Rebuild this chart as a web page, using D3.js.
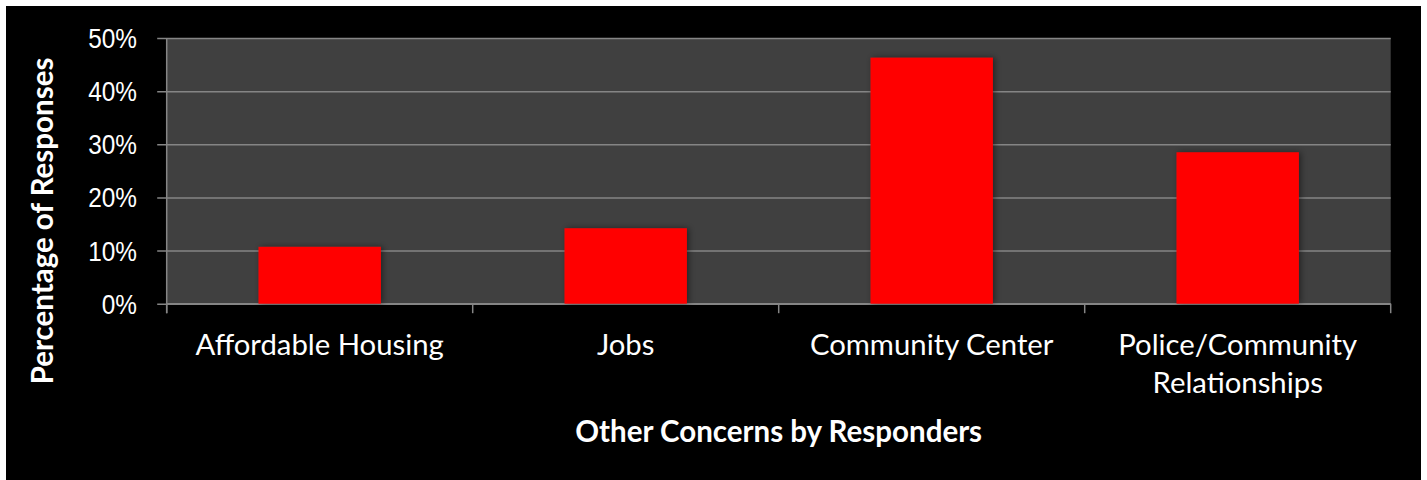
<!DOCTYPE html>
<html>
<head>
<meta charset="utf-8">
<script src="https://cdn.jsdelivr.net/npm/d3@7"></script>
<style>
  html, body { margin: 0; padding: 0; background: #ffffff; }
  svg { display: block; }
</style>
</head>
<body>
<svg id="chart" width="1427" height="480"></svg>
<script>
// Survey results: other concerns raised by responders
const categories = ["Affordable Housing", "Jobs", "Community Center", "Police/Community Relationships"];
const categoryLines = [["Affordable Housing"], ["Jobs"], ["Community Center"], ["Police/Community", "Relationships"]];
const percentages = [10.7, 14.2, 46.3, 28.5];
const yTicks = [0, 10, 20, 30, 40, 50];

const svg = d3.select("#chart");
const W = 1427, H = 480;

// Black slide panel
svg.append("rect").attr("x", 6).attr("y", 6).attr("width", 1415).attr("height", H - 6).attr("fill", "#000");

const plot = { left: 166.7, right: 1390.7, top: 38, bottom: 303.7 };

const x = d3.scaleBand().domain(categories).range([plot.left, plot.right]).paddingInner(0.6).paddingOuter(0.3);
const xOuter = d3.scaleBand().domain(categories).range([plot.left, plot.right]);
const y = d3.scaleLinear().domain([0, 50]).range([plot.bottom, plot.top]);

const defs = svg.append("defs");
const shadow = defs.append("filter").attr("id", "barShadow").attr("x", "-20%").attr("y", "-20%").attr("width", "140%").attr("height", "140%");
shadow.append("feDropShadow").attr("dx", 2).attr("dy", 0).attr("stdDeviation", 3).attr("flood-color", "#000").attr("flood-opacity", 0.45);

// Plot area background
svg.append("rect")
  .attr("x", plot.left).attr("y", plot.top)
  .attr("width", plot.right - plot.left).attr("height", plot.bottom - plot.top)
  .attr("fill", "#404040");

const gridColor = "#858585";

// Horizontal gridlines with left tick marks
const yAxis = d3.axisLeft(y).tickValues(yTicks).tickSize(-(plot.right - plot.left)).tickFormat("");
const gy = svg.append("g").attr("transform", `translate(${plot.left},0)`).call(yAxis);
gy.select(".domain").remove();
gy.selectAll(".tick line").attr("stroke", gridColor).attr("stroke-width", 1.5).attr("x1", -9.5);

// Y tick labels (condensed sans)
svg.append("g").selectAll("text").data(yTicks).join("text")
  .attr("transform", d => `translate(137,${y(d) + 10}) scale(0.87,1)`)
  .attr("text-anchor", "end")
  .attr("fill", "#fff")
  .attr("font-family", "'Liberation Sans', Arial, sans-serif")
  .attr("font-size", 28)
  .text(d => d + "%");

// Y axis line
svg.append("line")
  .attr("x1", plot.left).attr("x2", plot.left)
  .attr("y1", plot.top).attr("y2", plot.bottom + 9.5)
  .attr("stroke", gridColor).attr("stroke-width", 1.5);

// X axis baseline and category separator ticks
svg.append("line")
  .attr("x1", plot.left).attr("x2", plot.right)
  .attr("y1", plot.bottom).attr("y2", plot.bottom)
  .attr("stroke", gridColor).attr("stroke-width", 1.5);
const sepX = categories.map(c => xOuter(c)).concat([plot.right]);
svg.append("g").selectAll("line").data(sepX).join("line")
  .attr("x1", d => d).attr("x2", d => d)
  .attr("y1", plot.bottom).attr("y2", plot.bottom + 9.5)
  .attr("stroke", gridColor).attr("stroke-width", 1.5);

// Bars
svg.append("g").selectAll("rect").data(percentages).join("rect")
  .attr("x", (d, i) => x(categories[i]))
  .attr("y", d => y(d))
  .attr("width", x.bandwidth())
  .attr("height", d => y(0) - y(d))
  .attr("fill", "#ff0000")
  .attr("filter", "url(#barShadow)");

// Category labels
const catFont = "Lato, 'Open Sans', sans-serif";
const lbl = svg.append("g").selectAll("text").data(categories).join("text")
  .attr("text-anchor", "middle")
  .attr("fill", "#fff")
  .attr("font-family", catFont)
  .attr("font-size", 29.3);
lbl.each(function(c, i) {
  const t = d3.select(this);
  const cx = xOuter(c) + xOuter.bandwidth() / 2;
  categoryLines[i].forEach((line, j) => {
    t.append("tspan").attr("x", cx).attr("y", 355 + j * 38).text(line);
  });
});

// Axis titles
svg.append("text")
  .attr("x", (plot.left + plot.right) / 2).attr("y", 442)
  .attr("text-anchor", "middle")
  .attr("fill", "#fff")
  .attr("font-family", catFont)
  .attr("font-weight", "bold")
  .attr("font-size", 29.5)
  .text("Other Concerns by Responders");

svg.append("text")
  .attr("transform", "translate(53,221) rotate(-90)")
  .attr("text-anchor", "middle")
  .attr("fill", "#fff")
  .attr("font-family", catFont)
  .attr("font-weight", "bold")
  .attr("font-size", 29.5)
  .text("Percentage of Responses");
</script>
</body>
</html>
